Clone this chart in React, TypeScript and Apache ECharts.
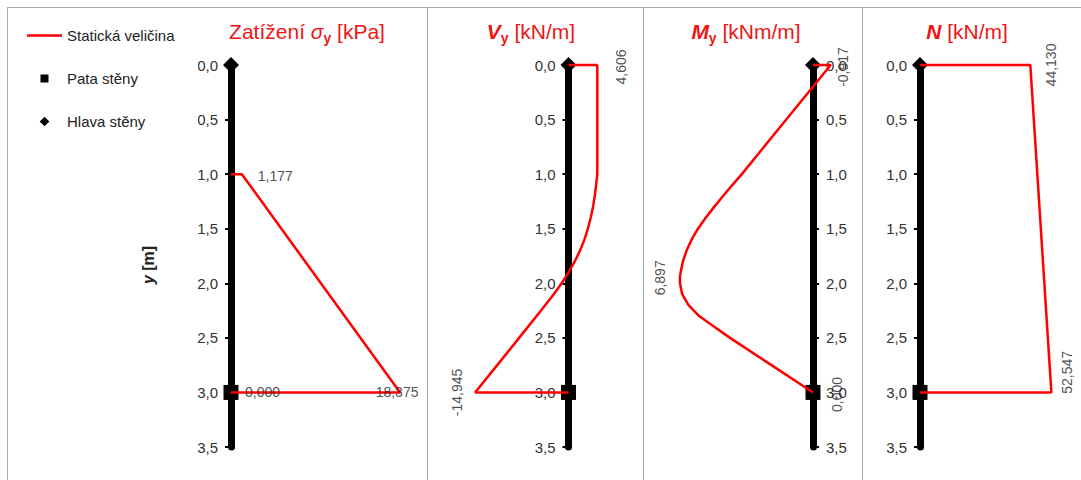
import React, { useEffect, useRef } from "react";
import * as echarts from "echarts";

// ---------- data ----------
const headDepth = 0.0; // Hlava stěny
const footDepth = 3.0; // Pata stěny

// Zatížení σy [kPa]
const loadDepth = [1.0, 1.0, 3.0, 3.0];
const loadValue = [0, 1.177, 18.375, 0];

// Vy [kN/m]
const shearDepth = [0, 0, 1.0, 1.1, 1.2, 1.3, 1.4, 1.5, 1.6, 1.7, 1.8, 1.9, 2.0, 2.1, 2.25, 2.5, 2.75, 3.0, 3.0];
const shearValue = [0, 4.606, 4.606, 4.42, 4.2, 3.92, 3.55, 3.1, 2.55, 1.85, 1.0, 0.0, -1.1, -2.35, -4.4, -7.9, -11.4, -14.945, 0];

// My [kNm/m]
const momentDepth = [0, 0, 0.5, 1.0, 1.1, 1.2, 1.3, 1.4, 1.5, 1.6, 1.7, 1.8, 1.9, 1.95, 2.0, 2.1, 2.2, 2.3, 2.4, 2.5, 2.75, 3.0];
const momentValue = [0, -0.917, 1.386, 3.689, 4.18, 4.66, 5.12, 5.56, 5.96, 6.29, 6.55, 6.74, 6.86, 6.897, 6.89, 6.78, 6.45, 5.9, 5.1, 4.3, 2.15, 0];

// N [kN/m]
const normalDepth = [0, 0, 3.0, 3.0];
const normalValue = [0, 44.13, 52.547, 0];

// depth axis
const depthMin = 0;
const depthMax = 3.5;
const depthStep = 0.5;

// ---------- styles ----------
const RED = "#ff0000";
const TITLE_RED = "#f01414";
const FONT = "'Liberation Sans', Arial, Helvetica, sans-serif";
const BORDER = "#ababab";

const comma = (v: number, d: number) => v.toFixed(d).replace(".", ",");
const pts = (ds: number[], vs: number[]) => vs.map((v, i) => [v, ds[i]]);

const LINE_ICON = "path://M0,0L0.01,0M0,5.8H35V8.2H0ZM35,14L34.99,14";
const SQ_ICON = "path://M0,0L0.01,0M13.5,3H21.5V11H13.5ZM35,14L34.99,14";
const DIA_ICON = "path://M0,0L0.01,0M17.5,2.2L22.3,7L17.5,11.8L12.7,7ZM35,14L34.99,14";

type LabelSpec = { x: number; y: number; dx: number; dy: number; align: string; rot: number };

function buildOption() {
  // zeroShift: distance (px) from the grid edge to the value 0, where the wall axis is drawn
  const panels = [
    { left: 231, width: 184, min: 0, max: 20, inverse: false, right: false, zeroShift: 0, ds: loadDepth, vs: loadValue },
    { left: 468.5, width: 137.5, min: -16, max: 6, inverse: false, right: false, zeroShift: 100, ds: shearDepth, vs: shearValue },
    { left: 668.25, width: 173.7, min: -1.5, max: 7.5, inverse: true, right: true, zeroShift: 28.95, ds: momentDepth, vs: momentValue },
    { left: 920, width: 150, min: 0, max: 60, inverse: false, right: false, zeroShift: 0, ds: normalDepth, vs: normalValue },
  ];

  const labels: LabelSpec[][] = [
    [
      { x: loadValue[1], y: loadDepth[1], dx: 16, dy: 2, align: "left", rot: 0 },
      { x: loadValue[3], y: loadDepth[3], dx: 14, dy: 0, align: "left", rot: 0 },
      { x: loadValue[2], y: loadDepth[2], dx: -3, dy: 0, align: "center", rot: 0 },
    ],
    [
      { x: shearValue[1], y: shearDepth[1], dx: 24, dy: 2, align: "center", rot: 90 },
      { x: shearValue[17], y: shearDepth[17], dx: -18, dy: 0, align: "center", rot: 90 },
    ],
    [
      { x: momentValue[1], y: momentDepth[1], dx: 12, dy: 2, align: "center", rot: 90 },
      { x: momentValue[13], y: momentDepth[13], dx: -20, dy: 0, align: "center", rot: 90 },
      { x: momentValue[21], y: momentDepth[21], dx: 24, dy: 2, align: "center", rot: 90 },
    ],
    [
      { x: normalValue[1], y: normalDepth[1], dx: 21, dy: 0, align: "center", rot: 90 },
      { x: normalValue[2], y: normalDepth[2], dx: 16, dy: -20, align: "center", rot: 90 },
    ],
  ];

  const grid = panels.map((p) => ({
    left: p.left,
    top: 65,
    width: p.width,
    height: 382,
    containLabel: false,
    outerBoundsMode: "none",
  }));

  const xAxis = panels.map((p, i) => ({
    gridIndex: i,
    type: "value",
    min: p.min,
    max: p.max,
    inverse: p.inverse,
    show: false,
    splitLine: { show: false },
  }));

  const yAxis = panels.map((p, i) => ({
    gridIndex: i,
    type: "value",
    min: depthMin,
    max: depthMax,
    interval: depthStep,
    inverse: true,
    position: p.right ? "right" : "left",
    offset: -p.zeroShift,
    axisLine: { show: true, onZero: false, lineStyle: { color: "#000", width: 7 } },
    axisTick: { show: true, length: 6, lineStyle: { color: "#000", width: 2 } },
    axisLabel: {
      show: true,
      margin: 13,
      fontSize: 15,
      color: "#333",
      fontFamily: FONT,
      formatter: (v: number) => comma(v, 1),
    },
    splitLine: { show: false },
  }));

  const series: any[] = [];
  panels.forEach((p, i) => {
    series.push({
      name: "Hlava stěny",
      type: "scatter",
      xAxisIndex: i,
      yAxisIndex: i,
      symbol: "diamond",
      symbolSize: 16,
      clip: false,
      itemStyle: { color: "#000", opacity: 1 },
      data: [[0, headDepth]],
      z: 3,
      silent: true,
    });
    series.push({
      name: "Pata stěny",
      type: "scatter",
      xAxisIndex: i,
      yAxisIndex: i,
      symbol: "rect",
      symbolSize: 15,
      clip: false,
      itemStyle: { color: "#000", opacity: 1 },
      data: [[0, footDepth]],
      z: 3,
      silent: true,
    });
    series.push({
      name: "Statická veličina",
      type: "line",
      xAxisIndex: i,
      yAxisIndex: i,
      color: RED,
      symbol: "none",
      clip: false,
      lineStyle: { color: RED, width: 2.5 },
      itemStyle: { color: RED },
      data: pts(p.ds, p.vs),
      z: 4,
      silent: true,
    });
    series.push({
      name: "hodnoty" + i,
      type: "scatter",
      xAxisIndex: i,
      yAxisIndex: i,
      symbolSize: 1,
      clip: false,
      itemStyle: { color: "rgba(0,0,0,0)" },
      z: 5,
      silent: true,
      data: labels[i].map((l) => ({
        value: [l.x, l.y],
        label: {
          show: true,
          formatter: comma(l.x, 3),
          position: [l.dx + 0.5, l.dy + 0.5],
          align: l.align,
          verticalAlign: "middle",
          rotate: l.rot,
          fontSize: 14,
          color: "#222",
          fontFamily: FONT,
        },
      })),
    });
  });

  const titleRich = {
    a: { fontSize: 21, fontFamily: FONT, fill: TITLE_RED, lineHeight: 27, verticalAlign: "middle" },
    i: { fontSize: 21, fontFamily: FONT, fill: TITLE_RED, fontStyle: "italic", fontWeight: "bold", lineHeight: 27, verticalAlign: "middle" },
    s: { fontSize: 21, fontFamily: FONT, fill: TITLE_RED, fontStyle: "italic", lineHeight: 27, verticalAlign: "middle" },
    b: { fontSize: 14, fontFamily: FONT, fill: TITLE_RED, fontWeight: "bold", verticalAlign: "bottom" },
  };

  const titles = [
    { x: 307, text: "{a|Zatížení }{s|σ}{b|y}{a| [kPa]}" },
    { x: 531, text: "{i|V}{b|y}{a| [kN/m]}" },
    { x: 746, text: "{i|M}{b|y}{a| [kNm/m]}" },
    { x: 967, text: "{i|N}{a| [kN/m]}" },
  ];

  const graphic: any[] = [
    { type: "rect", shape: { x: 8, y: 9, width: 190, height: 132 }, style: { fill: "#fff" }, z: 3, silent: true },
    { type: "line", shape: { x1: 7, y1: 7.5, x2: 1081, y2: 7.5 }, style: { stroke: BORDER, lineWidth: 1 }, z: 1, silent: true },
    { type: "line", shape: { x1: 7.5, y1: 7, x2: 7.5, y2: 480 }, style: { stroke: BORDER, lineWidth: 1 }, z: 1, silent: true },
    { type: "line", shape: { x1: 427.5, y1: 7, x2: 427.5, y2: 480 }, style: { stroke: BORDER, lineWidth: 1 }, z: 1, silent: true },
    { type: "line", shape: { x1: 643.5, y1: 7, x2: 643.5, y2: 480 }, style: { stroke: BORDER, lineWidth: 1 }, z: 1, silent: true },
    { type: "line", shape: { x1: 862.5, y1: 7, x2: 862.5, y2: 480 }, style: { stroke: BORDER, lineWidth: 1 }, z: 1, silent: true },
    ...titles.map((t) => ({
      type: "text",
      x: t.x,
      y: 31,
      z: 6,
      silent: true,
      style: { text: t.text, rich: titleRich, align: "center", verticalAlign: "middle" },
    })),
    {
      type: "text",
      x: 148,
      y: 265,
      rotation: Math.PI / 2,
      z: 6,
      silent: true,
      style: {
        text: "{i|y}{a| [m]}",
        align: "center",
        verticalAlign: "middle",
        rich: {
          i: { fontSize: 16, fontFamily: FONT, fontWeight: "bold", fontStyle: "italic", fill: "#222" },
          a: { fontSize: 16, fontFamily: FONT, fontWeight: "bold", fill: "#222" },
        },
      },
    },
  ];

  return {
    animation: false,
    backgroundColor: "#fff",
    legend: {
      orient: "vertical",
      left: 27,
      top: 28,
      itemWidth: 35,
      itemHeight: 14,
      itemGap: 28,
      selectedMode: false,
      padding: 0,
      itemStyle: { borderWidth: 0, opacity: 1 },
      textStyle: { fontSize: 15, color: "#222", fontFamily: FONT },
      data: [
        { name: "Statická veličina", icon: LINE_ICON },
        { name: "Pata stěny", icon: SQ_ICON },
        { name: "Hlava stěny", icon: DIA_ICON },
      ],
    },
    grid,
    xAxis,
    yAxis,
    series,
    graphic,
  };
}

export default function App() {
  const ref = useRef<HTMLDivElement>(null);
  useEffect(() => {
    if (!ref.current) return;
    const chart = echarts.init(ref.current, null, { renderer: "svg" });
    chart.setOption(buildOption() as any);
    return () => chart.dispose();
  }, []);
  return (
    <div
      ref={ref}
      style={{ position: "absolute", left: 0, top: 0, width: 1081, height: 480, background: "#fff" }}
    />
  );
}
